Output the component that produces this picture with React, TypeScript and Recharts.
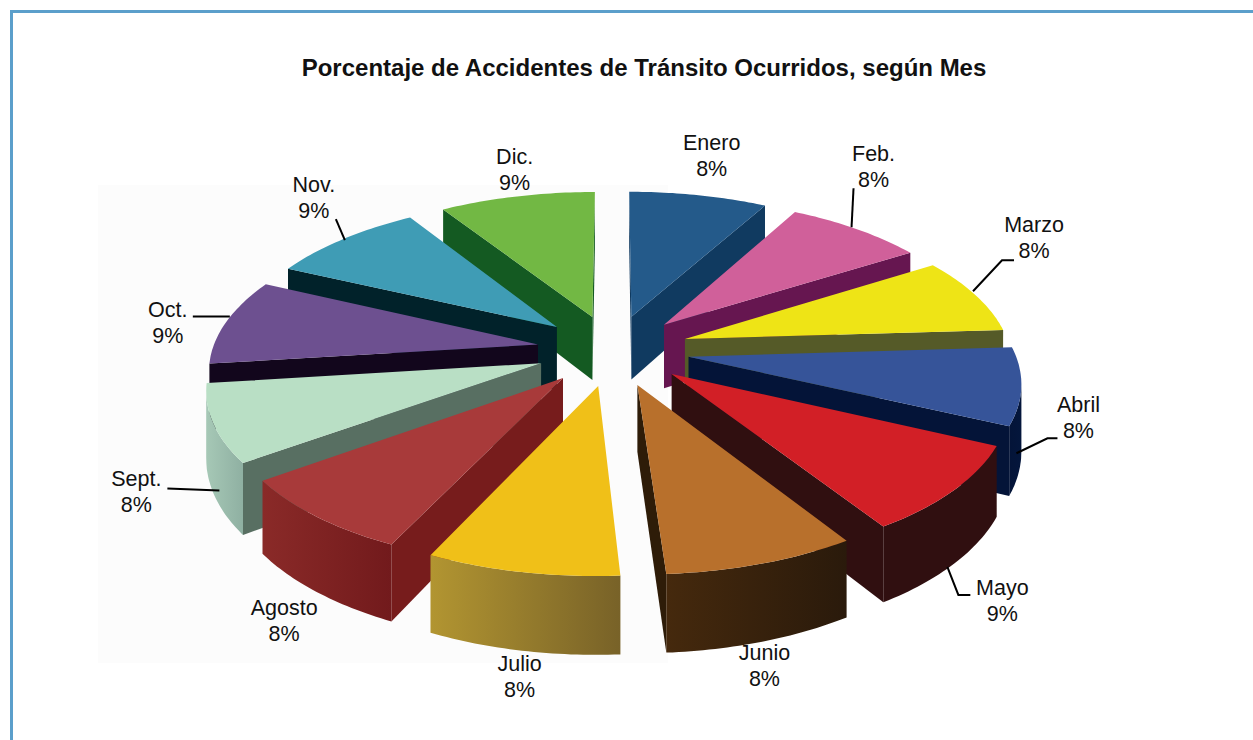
import { PieChart, Pie } from 'recharts';

const rightMonths = ['Enero', 'Feb.', 'Marzo', 'Abril', 'Mayo', 'Junio'];
const rightValues = [8, 8, 8, 8, 9, 8];
// left half is listed back to front so the front slices paint last
const leftMonths = ['Dic.', 'Nov.', 'Oct.', 'Sept.', 'Agosto', 'Julio'];
const leftValues = [9, 9, 9, 8, 8, 8];

const topColors: Record<string, string> = {
  Enero: '#245a8a', 'Feb.': '#d0609a', Marzo: '#eee416', Abril: '#365499', Mayo: '#d21f26', Junio: '#b8702c',
  Julio: '#f0c018', Agosto: '#a83a3a', 'Sept.': '#b9dfc5', 'Oct.': '#6d5090', 'Nov.': '#3f9cb5', 'Dic.': '#72b844',
};
const wallColors: Record<string, string> = {
  Enero: '#103a60', 'Feb.': '#661650', Marzo: '#555a28', Abril: '#041438', Mayo: '#300f10', Junio: '#2e1c08',
  Julio: '#786228', Agosto: '#771c1c', 'Sept.': '#586f62', 'Oct.': '#12061c', 'Nov.': '#01222a', 'Dic.': '#145a22',
};
// outer rim gradient, left -> right
const rimColors: Record<string, [string, string]> = {
  Enero: ['#103a60', '#103a60'], 'Feb.': ['#661650', '#661650'], Marzo: ['#555a28', '#555a28'], Abril: ['#041438', '#04163c'],
  Mayo: ['#300f10', '#300f10'], Junio: ['#45290d', '#2a1a0b'], Julio: ['#b29531', '#786228'], Agosto: ['#8a2a28', '#721a1c'],
  'Sept.': ['#a6c8b6', '#8fb0a2'], 'Oct.': ['#12061c', '#12061c'], 'Nov.': ['#01222a', '#01222a'], 'Dic.': ['#145a22', '#145a22'],
};

// label nudges from the slice's outer mid point
const labelOffsets: Record<string, [number, number]> = {
  Enero: [12, -52], 'Feb.': [13, -75], Marzo: [53, -70], Abril: [51, 19], Mayo: [43, 98], Junio: [0, 89],
  Julio: [-1, 92], Agosto: [-28, 91], 'Sept.': [-71, 55], 'Oct.': [-53, -12], 'Nov.': [-25, -54], 'Dic.': [-1, -39],
};
const leaderOffsets: Record<string, [number, number][]> = {
  'Feb.': [[-9, -2], [-7, -41]],
  Marzo: [[-8, -4], [21, -35], [33, -35]],
  Abril: [[-11, 67], [20, 52], [30, 52]],
  Mayo: [[-12, 77], [-1, 105], [11, 105]],
  'Sept.': [[12, 67], [-40, 65]],
  'Oct.': [[9, -5], [-28, -5]],
  'Nov.': [[6, 1], [-3, -20]],
};

const CX = 613, CY = 350, RX = 402, RY = 187;
const PERSPECTIVE = 0.176, EXPLODE = 0.19, DEPTH = 65, LABEL_EXTRA = 6;
const RAD = Math.PI / 180;

const project = (u: number, v: number, cx: number, cy: number, rx: number) => {
  const s = 1 / (1 + PERSPECTIVE * v);
  return { x: cx + rx * u * s, y: cy - RY * v * s, s };
};

const down = (p: any) => ({ x: p.x, y: p.y + DEPTH * p.s });
const toPath = (pts: any[]) => 'M' + pts.map((p) => `${p.x.toFixed(1)},${p.y.toFixed(1)}`).join('L') + 'Z';

const Slice3D = (props: any) => {
  const { cx, cy, outerRadius, startAngle, endAngle, name } = props;
  const a0 = Math.max(startAngle, endAngle), a1 = Math.min(startAngle, endAngle);
  const mid = ((a0 + a1) / 2) * RAD;
  const ox = EXPLODE * Math.cos(mid), oy = EXPLODE * Math.sin(mid);
  const r = 1 - EXPLODE;
  const apex = project(ox, oy, cx, cy, outerRadius);
  const arc = [];
  for (let i = 0; i <= 32; i++) {
    const a = (a0 + ((a1 - a0) * i) / 32) * RAD;
    arc.push(project(ox + r * Math.cos(a), oy + r * Math.sin(a), cx, cy, outerRadius));
  }
  const first = arc[0], last = arc[arc.length - 1];

  // only the faces pointing at the viewer: x falls along the clockwise outline
  const rim: any[] = [];
  for (const p of arc) {
    const i = arc.indexOf(p);
    const next = arc[i + 1], prev = arc[i - 1];
    if ((next && next.x < p.x) || (prev && p.x < prev.x)) rim.push(p);
  }
  const gradId = `rim-${String(name).replace('.', '')}`;
  const xs = rim.map((p) => p.x);
  return (
    <g>
      <defs>
        <linearGradient id={gradId} gradientUnits="userSpaceOnUse" x1={Math.min(...xs, first.x)} x2={Math.max(...xs, first.x)} y1={0} y2={0}>
          <stop offset="0%" stopColor={rimColors[name][0]} />
          <stop offset="100%" stopColor={rimColors[name][1]} />
        </linearGradient>
      </defs>
      {first.x < apex.x && <path d={toPath([apex, first, down(first), down(apex)])} fill={wallColors[name]} />}
      {apex.x < last.x && <path d={toPath([last, apex, down(apex), down(last)])} fill={wallColors[name]} />}
      {rim.length > 1 && <path d={toPath([...rim, ...rim.slice().reverse().map(down)])} fill={`url(#${gradId})`} />}
      <path d={toPath([apex, ...arc])} fill={topColors[name]} />
    </g>
  );
};

const SliceLabel = (props: any) => {
  const { cx, cy, outerRadius, midAngle, name, value } = props;
  const p = project(Math.cos(midAngle * RAD), Math.sin(midAngle * RAD), cx, cy, outerRadius + LABEL_EXTRA);
  const [dx, dy] = labelOffsets[name];
  const leader = leaderOffsets[name];
  return (
    <g>
      {leader && (
        <polyline
          points={leader.map(([lx, ly]) => `${p.x + lx},${p.y + ly}`).join(' ')}
          fill="none" stroke="#000" strokeWidth={2}
        />
      )}
      <text x={p.x + dx} y={p.y + dy} textAnchor="middle" dominantBaseline="central" fontFamily="Liberation Sans" fontSize={21.5} fill="#111">
        {name}
      </text>
      <text x={p.x + dx} y={p.y + dy + 26} textAnchor="middle" dominantBaseline="central" fontFamily="Liberation Sans" fontSize={21.5} fill="#111">
        {value}%
      </text>
    </g>
  );
};

const rightData = rightMonths.map((name, i) => ({ name, value: rightValues[i] }));
const leftData = leftMonths.map((name, i) => ({ name, value: leftValues[i] }));
const sum = (xs: number[]) => xs.reduce((a, b) => a + b, 0);
const total = sum(rightValues) + sum(leftValues);

export default function App() {
  return (
    <div style={{ position: 'absolute', left: 0, top: 0, width: 1253, height: 740, background: '#fff', overflow: 'hidden' }}>
      <div style={{ position: 'absolute', left: 10, top: 10, right: -10, bottom: -10, borderLeft: '3px solid #5b9fcb', borderTop: '3px solid #5b9fcb' }} />
      <div style={{ position: 'absolute', left: 98, top: 185, width: 570, height: 478, background: '#fcfcfc' }} />
      <div style={{ position: 'absolute', left: 0, width: 1288, top: 54, textAlign: 'center', fontFamily: 'Liberation Sans', fontWeight: 'bold', fontSize: 24, lineHeight: '28px', color: '#111' }}>
        Porcentaje de Accidentes de Tránsito Ocurridos, según Mes
      </div>
      <div style={{ position: 'absolute', left: 0, top: 0 }}>
        <PieChart width={1253} height={740} margin={{ top: 0, right: 0, bottom: 0, left: 0 }}>
          <Pie
            data={rightData} dataKey="value" nameKey="name" cx={CX} cy={CY} outerRadius={RX}
            startAngle={90} endAngle={90 - (360 * sum(rightValues)) / total}
            shape={Slice3D} label={SliceLabel} labelLine={false} stroke="none" isAnimationActive={false}
          />
          <Pie
            data={leftData} dataKey="value" nameKey="name" cx={CX} cy={CY} outerRadius={RX}
            startAngle={90} endAngle={90 + (360 * sum(leftValues)) / total}
            shape={Slice3D} label={SliceLabel} labelLine={false} stroke="none" isAnimationActive={false}
          />
        </PieChart>
      </div>
    </div>
  );
}
